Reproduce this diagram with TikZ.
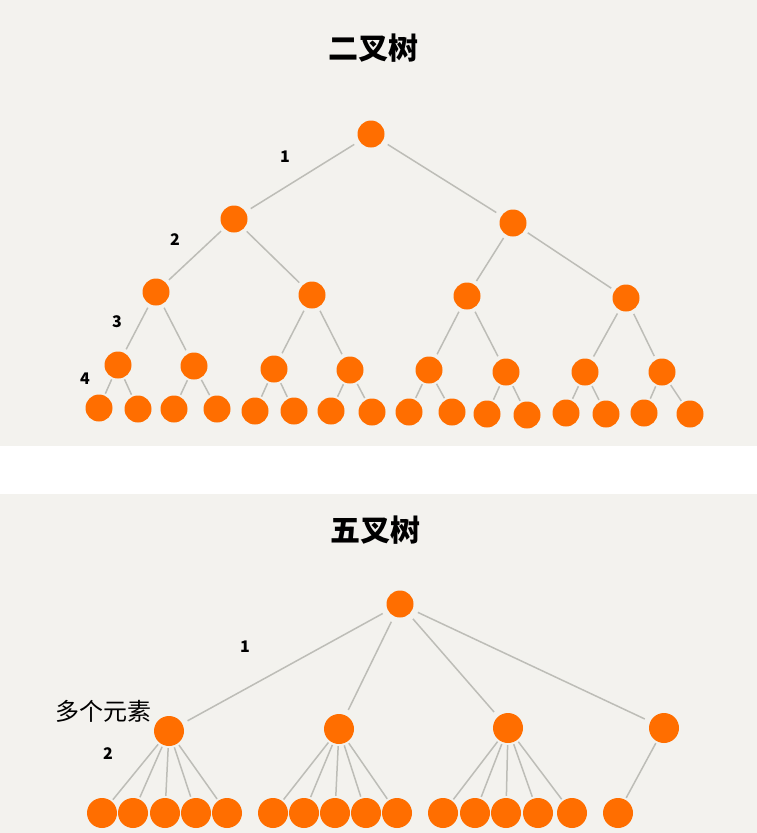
\documentclass[tikz,border=0pt]{standalone}
\usepackage{fontspec}
\newfontfamily\cjk{Noto Sans CJK SC}
\definecolor{panel}{HTML}{F3F2EE}
\definecolor{dot}{HTML}{FF6E00}
\definecolor{stem}{HTML}{BDBDB7}
\tikzset{
  ball/.style={circle,fill=dot,minimum size=27pt,inner sep=0pt},
  bigball/.style={ball,minimum size=30pt},
  twig/.style={draw=stem,line width=1.5pt,shorten <=4pt,shorten >=4pt},
  num/.style={font=\cjk\bfseries\fontsize{16}{16}\selectfont},
  title/.style={font=\cjk\bfseries\fontsize{30}{30}\selectfont}
}

\begin{document}
\begin{tikzpicture}[x=1pt,y=-1pt]
    \useasboundingbox[fill=white] (0,0) rectangle (757,833);
    \fill[panel] (0,0) rectangle (757,446);
    \fill[panel] (0,494) rectangle (757,833);

    % binary tree
    \node[title] (head2) at (373,48) {二叉树};
    \node[ball] (r) at (371,134) {};
    \node[ball] (a) at (234,219) {};
    \node[ball] (b) at (513,223) {};
    \node[ball] (b1) at (156,292) {};
    \node[ball] (b2) at (312,295) {};
    \node[ball] (b3) at (467,296) {};
    \node[ball] (b4) at (626,298) {};
    \foreach \x/\y [count=\i] in {118/365,194/366,274/369,350/370,429/370,506/372,585/372,662/372}
        \node[ball] (c\i) at (\x,\y) {};
    \foreach \x/\y [count=\i] in {99/408,138/409,174/409,217/409,255/411,294/411,331/411,372/412,
                                  409/412,452/412,487/414,527/415,566/413,606/414,644/413,690/414}
        \node[ball] (t\i) at (\x,\y) {};
    \draw[twig,shorten <=6pt,shorten >=6pt] (r) -- (a);
    \draw[twig,shorten <=6pt,shorten >=6pt] (r) -- (b);
    \draw[twig] (a) -- (b1);
    \draw[twig] (a) -- (b2);
    \draw[twig] (b) -- (b3);
    \draw[twig] (b) -- (b4);
    \foreach \p/\i in {1/1,1/2,2/3,2/4,3/5,3/6,4/7,4/8}
        \draw[twig] (b\p) -- (c\i);
    \foreach \i in {1,...,8} {
        \pgfmathtruncatemacro{\l}{2*\i-1}
        \pgfmathtruncatemacro{\m}{2*\i}
        \draw[twig,shorten <=2pt,shorten >=2pt] (c\i) -- (t\l);
        \draw[twig,shorten <=2pt,shorten >=2pt] (c\i) -- (t\m);
    }
    \node[num] (n1) at (285,157) {1};
    \node[num] (n2) at (175,240) {2};
    \node[num] (n3) at (117,322) {3};
    \node[num] (n4) at (85,379) {4};

    % five-way tree
    \node[title] (head5) at (375,530) {五叉树};
    \node[ball] (s) at (400,604) {};
    \foreach \x/\y [count=\i] in {169/731,339/729,508/728,664/728}
        \node[bigball] (f\i) at (\x,\y) {};
    \foreach \x [count=\i] in {102,133,165,196,227,273,304,335,366,397,443,475,506,538,572,618}
        \node[bigball] (g\i) at (\x,813) {};
    \foreach \i in {1,...,4}
        \draw[twig,shorten <=6pt,shorten >=6pt] (s) -- (f\i);
    \foreach \i in {1,...,5}
        \draw[twig,shorten <=2pt,shorten >=2pt] (f1) -- (g\i);
    \foreach \i in {6,...,10}
        \draw[twig,shorten <=2pt,shorten >=2pt] (f2) -- (g\i);
    \foreach \i in {11,...,15}
        \draw[twig,shorten <=2pt,shorten >=2pt] (f3) -- (g\i);
    \draw[twig,shorten <=2pt,shorten >=2pt] (f4) -- (g16);
    \node[num] (m1) at (245,647) {1};
    \node[num] (m2) at (108,754) {2};
    \node[anchor=east,inner sep=0pt,font=\cjk\fontsize{24}{24}\selectfont] (many) at (152,711) {多个元素};

\end{tikzpicture}
\end{document}
